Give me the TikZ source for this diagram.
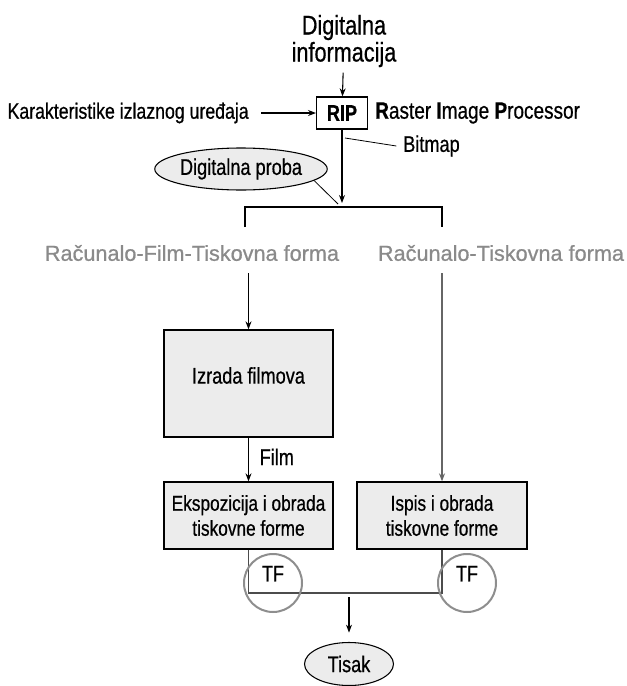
\documentclass[tikz,border=0pt]{standalone}
\usepackage{fontspec}
\setmainfont[FakeStretch=0.8, FakeBold=0.6]{Liberation Sans}
\newfontfamily\routefont[FakeBold=0.8]{Liberation Sans}
\usetikzlibrary{shapes.geometric,arrows.meta}
\definecolor{boxgray}{HTML}{ECECEC}
\definecolor{routegray}{HTML}{8A8A8A}
\definecolor{ringgray}{HTML}{8E8E8E}

\begin{document}
\begin{tikzpicture}[
    x=0.75pt, y=-0.75pt,
    arrowstyle/.style={draw, line width=0.8pt, -{Stealth[length=6pt, width=4.5pt]}},
    leader/.style={draw, line width=0.6pt},
    textonly/.style={inner sep=0pt, font=\fontsize{17pt}{20pt}\selectfont},
    process/.style={rectangle, draw, line width=1pt, fill=boxgray, align=center,
        font=\fontsize{16.2pt}{18.75pt}\selectfont},
    oval/.style={ellipse, draw, line width=0.8pt, fill=boxgray, inner sep=0pt,
        font=\fontsize{17pt}{20pt}\selectfont},
    route/.style={text=routegray, inner sep=0pt,
        font=\routefont\fontsize{16.25pt}{19pt}\selectfont},
    ring/.style={circle, draw=ringgray, line width=1.5pt, minimum size=43.5pt, inner sep=0pt}
]
\useasboundingbox (0,0) rectangle (627,686);

% input side
\node (DigitalInfo) [textonly, align=center, font=\fontsize{20.3pt}{20.25pt}\selectfont]
  at (344,41) {Digitalna\\informacija};
\node (Rip) [process, fill=white, minimum width=38pt, minimum height=24pt, inner sep=0pt,
  font=\fontsize{17pt}{18pt}\selectfont\bfseries] at (342,113) {RIP};
\node (Features) [textonly, anchor=east, font=\fontsize{16.6pt}{18pt}\selectfont]
  at (249,113) {Karakteristike izlaznog uređaja};
\node (RipName) [textonly, anchor=west, font=\fontsize{17.8pt}{18pt}\selectfont]
  at (375,113) {\textbf{R}aster \textbf{I}mage \textbf{P}rocessor};
\node (Bitmap) [textonly, anchor=west] at (403,146) {Bitmap};
\node (Proof) [oval, minimum width=117pt, minimum height=31.5pt] at (241,169) {Digitalna proba};

\coordinate (BitmapTip) at (345,138);
\coordinate (Split) at (342,207);
\coordinate (ProofTip) at (338,204);
\coordinate (BranchL) at (245,227);
\coordinate (BranchR) at (442,227);

\draw [arrowstyle, shorten <=4pt] (DigitalInfo) -- (Rip);
\draw [arrowstyle] ([xshift=9pt]Features.east) -- (Rip);
\draw [arrowstyle, shorten >=3pt] (Rip) -- (Split);
\draw [leader] (BitmapTip) -- ([xshift=-5pt]Bitmap.west);
\draw [leader] (Proof.-9) -- (ProofTip);
\draw [leader, line width=0.8pt] (BranchL) |- (Split) -| (BranchR);

% two routes
\node (RouteFilm) [route] at (192,253) {Računalo-Film-Tiskovna forma};
\node (RouteDirect) [route] at (501,253) {Računalo-Tiskovna forma};

\node (Film01) [process, minimum width=126.75pt, minimum height=80.25pt,
  font=\fontsize{17pt}{18pt}\selectfont] at (248.5,383.5)
  {\raisebox{6pt}[\height][\depth]{Izrada filmova}};
\node (Expose01) [process, minimum width=126.75pt, minimum height=50.25pt]
  at (248.5,515.5) {Ekspozicija i obrada\\tiskovne forme};
\node (Print01) [process, minimum width=127.5pt, minimum height=50.25pt]
  at (442,515.5) {Ispis i obrada\\tiskovne forme};

\draw [arrowstyle, shorten <=9pt] (RouteFilm.south -| Film01.north) -- (Film01);
\draw [arrowstyle, black!60, shorten <=9pt] (RouteDirect.south -| Print01.north) -- (Print01);
\draw [arrowstyle] (Film01) -- node [textonly, right, xshift=8pt, yshift=2pt] (FilmLabel) {Film} (Expose01);

% printing forme
\coordinate (Join) at (349,593);
\draw [leader, line width=0.8pt, black!70] (Expose01) |- (Join) -| (Print01);

\node (Tf01) [ring, label={[name=TfText01, textonly, yshift=7pt]center:TF}] at (273,583) {};
\node (Tf02) [ring, label={[name=TfText02, textonly, yshift=7pt]center:TF}] at (467,583) {};

\node (Press) [oval, minimum width=66.75pt, minimum height=32.25pt] at (349,664) {Tisak};
\draw [arrowstyle, shorten <=3pt, shorten >=7pt] (Join) -- (Press);
\end{tikzpicture}
\end{document}
